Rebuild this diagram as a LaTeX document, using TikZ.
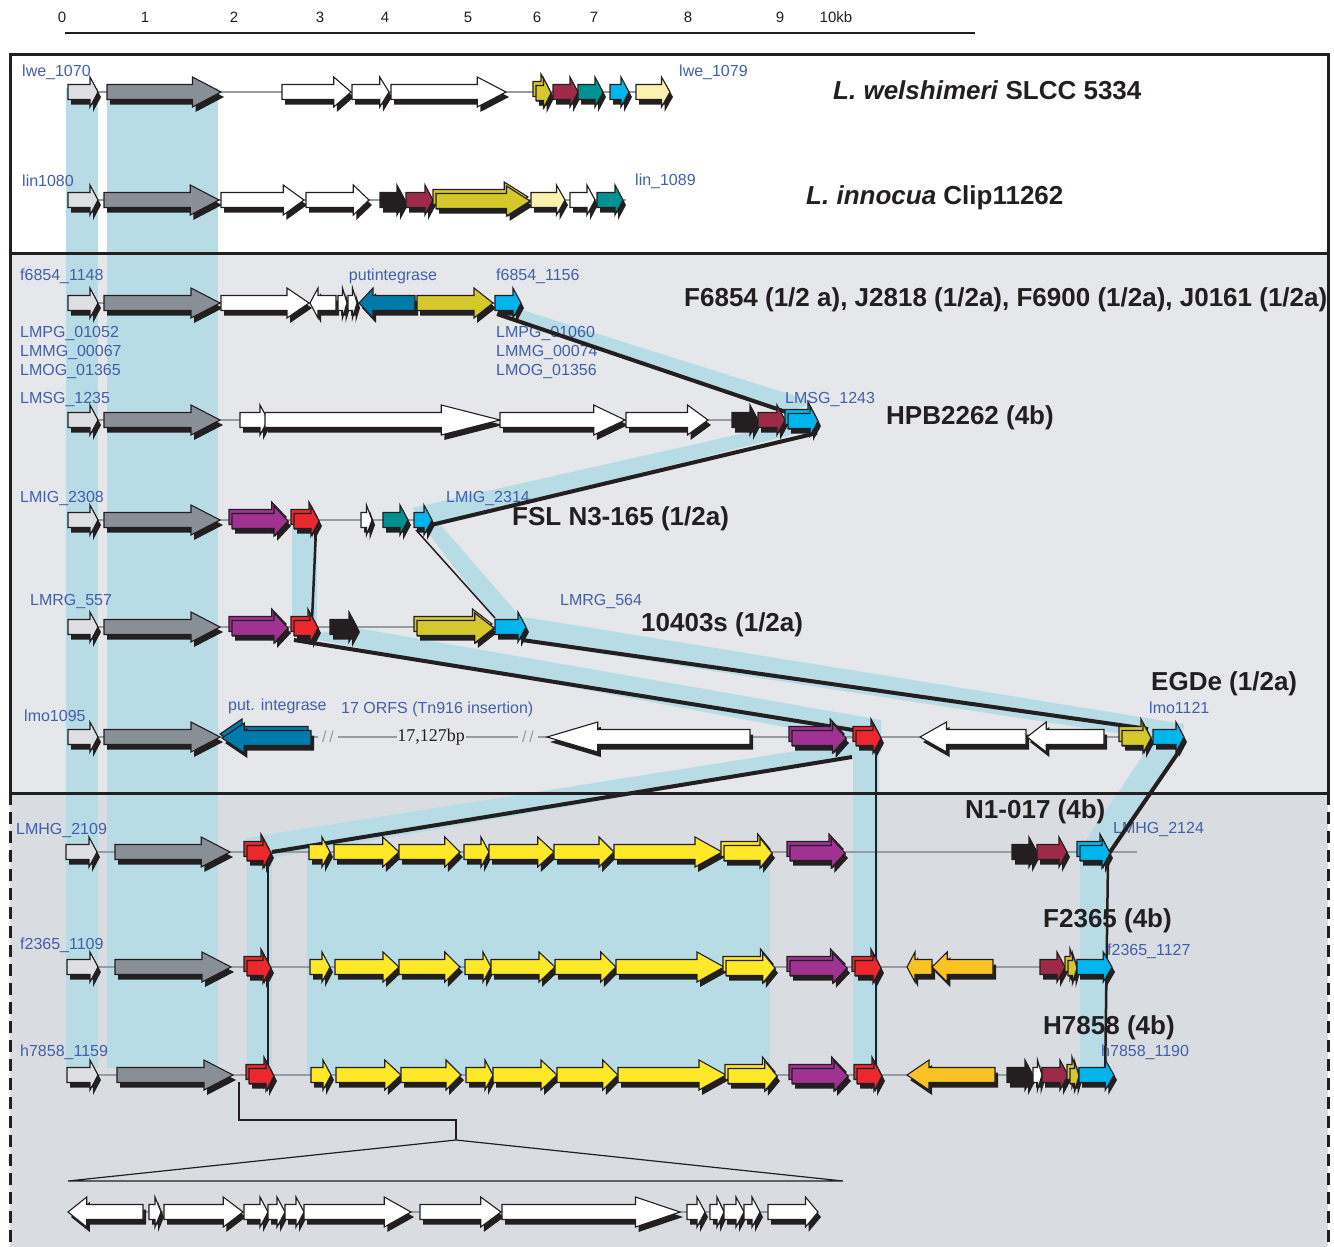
\documentclass[tikz,border=0pt]{standalone}
\usepackage{fontspec}
\setmainfont{Liberation Sans}
\newfontfamily\bpfont{Liberation Serif}

\definecolor{lgrey}{RGB}{221,223,227}
\definecolor{dgrey}{RGB}{137,143,150}
\definecolor{olive}{RGB}{212,200,45}
\definecolor{maroon}{RGB}{158,42,74}
\definecolor{teal}{RGB}{0,146,146}
\definecolor{cyan}{RGB}{0,181,236}
\definecolor{pale}{RGB}{252,242,176}
\definecolor{dblue}{RGB}{0,122,170}
\definecolor{purple}{RGB}{160,50,145}
\definecolor{red}{RGB}{235,40,45}
\definecolor{yellow}{RGB}{255,232,40}
\definecolor{orange}{RGB}{250,195,35}
\definecolor{ink}{RGB}{35,31,32}
\definecolor{lblue}{RGB}{65,95,170}
\definecolor{bandblue}{RGB}{184,220,229}
\definecolor{boxtwo}{RGB}{230,231,235}
\definecolor{boxthree}{RGB}{217,220,224}
\definecolor{spine}{RGB}{150,156,160}

\newcommand{\gene}[4]{%
  \pgfmathsetmacro\glen{abs(#2-(#1))}%
  \pgfmathsetmacro\ghd{max(0.25*\glen,min(8,0.5*\glen))}%
  \pgfmathsetmacro\gb{#2-sign(#2-(#1))*\ghd}%
  \fill[ink,shift={(3,5)}] (#1,#3-7.5) -- (\gb,#3-7.5) -- (\gb,#3-15) -- (#2,#3) -- (\gb,#3+15) -- (\gb,#3+7.5) -- (#1,#3+7.5) -- cycle;
  \filldraw[fill=#4,draw=ink,line width=1.1pt] (#1,#3-7.5) -- (\gb,#3-7.5) -- (\gb,#3-15) -- (#2,#3) -- (\gb,#3+15) -- (\gb,#3+7.5) -- (#1,#3+7.5) -- cycle;
}
\newcommand{\dgene}[4]{\gene{#1-1}{#2-2}{#3-3}{#4}\gene{#1+2}{#2}{#3+1}{#4}}

\tikzset{
  lbl/.style={text=lblue,font=\fontsize{16}{18}\selectfont,anchor=west,inner sep=0pt},
  title/.style={text=ink,font=\fontsize{26}{30}\selectfont\bfseries,anchor=west,inner sep=0pt},
  scl/.style={text=ink,font=\fontsize{15}{17}\selectfont,inner sep=0pt},
  band/.style={fill=bandblue},
  spineline/.style={spine,line width=1.8pt},
  link/.style={ink,line width=4pt},
  thinlink/.style={ink,line width=1.5pt},
  midlink/.style={ink,line width=2.5pt}
}

\begin{document}
\begin{tikzpicture}[x=1pt,y=-1pt]
\useasboundingbox (0,0) rectangle (1334,1247);
\fill[white] (0,0) rectangle (1334,1247);

\foreach \x/\t [count=\i] in {62/0,145/1,234/2,320/3,385/4,468/5,537/6,594/7,688/8,780/9,836/10kb}
  \node[scl] (s\i) at (\x,17) {\t};
\draw[ink,line width=1.5pt] (65,33) -- (975,33);

\fill[boxtwo] (10,253) rectangle (1328,793);
\fill[boxthree] (10,793) rectangle (1328,1247);

\fill[band] (66,88) rectangle (98,1068);
\fill[band] (107,88) rectangle (218,1068);
\fill[band] (498,316) -- (522,310) -- (814,402) -- (786,414) -- cycle;
\fill[band] (780,425) -- (818,428) -- (432,526) -- (412,508) -- cycle;
\fill[band] (420,522) -- (438,522) -- (525,622) -- (496,622) -- cycle;
\fill[band] (292,522) rectangle (317,627);
\fill[band] (505,620) -- (524,617) -- (1184,724) -- (1182,740) -- (1150,738) -- (524,642) -- cycle;
\fill[band] (296,636) -- (357,628) -- (881,720) -- (881,740) -- (855,740) -- cycle;
\fill[band] (853,742) -- (881,742) -- (881,752) -- (272,858) -- (246,858) -- (246,838) -- cycle;
\fill[band] (853,740) rectangle (879,1075);
\fill[band] (247,845) rectangle (272,1075);
\fill[band] (307,852) rectangle (770,1075);
\fill[band] (1150,745) -- (1182,745) -- (1108,852) -- (1078,852) -- cycle;
\fill[band] (1080,852) rectangle (1108,1075);

\draw[ink,line width=3pt] (10,55) rectangle (1328,253);
\draw[ink,line width=3pt] (10,253) rectangle (1328,793);
\draw[ink,line width=3pt,dash pattern=on 12pt off 7pt] (10,793) -- (10,1247);
\draw[ink,line width=3pt,dash pattern=on 12pt off 7pt] (1328,793) -- (1328,1247);

\draw[spineline] (68,92) -- (668,92);
\draw[spineline] (68,200) -- (626,200);
\draw[spineline] (68,303) -- (521,303);
\draw[spineline] (68,420) -- (818,420);
\draw[spineline] (68,520) -- (432,520);
\draw[spineline] (68,627) -- (526,627);
\draw[spineline] (68,737) -- (318,737);
\draw[spineline] (338,737) -- (397,737);
\draw[spineline] (466,737) -- (518,737);
\draw[spineline] (538,737) -- (1184,737);
\draw[spineline] (68,852) -- (1137,852);
\draw[spineline] (68,967) -- (1112,967);
\draw[spineline] (68,1075) -- (1114,1075);
\draw[spineline] (68,1212) -- (818,1212);

\node[lbl] (lwe1070) at (22,72) {lwe\_1070};
\node[lbl] (lwe1079) at (679,72) {lwe\_1079};
\node[title] (welsh) at (833,90) {\textit{L. welshimeri} SLCC 5334};
\node[lbl] (lin1080) at (22,181) {lin1080};
\node[lbl] (lin1089) at (635,181) {lin\_1089};
\node[title] (innoc) at (806,198) {\textit{L. innocua} Clip11262};
\node[lbl] (f1148) at (20,276) {f6854\_1148};
\node[lbl,anchor=center] (putint) at (393,276) {putintegrase};
\node[lbl] (f1156) at (496,276) {f6854\_1156};
\node[lbl] (lmpga) at (20,334) {LMPG\_01052};
\node[lbl] (lmmga) at (20,353) {LMMG\_00067};
\node[lbl] (lmoga) at (20,372) {LMOG\_01365};
\node[lbl] (lmpgb) at (496,334) {LMPG\_01060};
\node[lbl] (lmmgb) at (496,353) {LMMG\_00074};
\node[lbl] (lmogb) at (496,372) {LMOG\_01356};
\node[title] (f6854) at (684,300) {F6854 (1/2 a), J2818 (1/2a), F6900 (1/2a), J0161 (1/2a)};
\node[lbl] (lmsga) at (20,400) {LMSG\_1235};
\node[lbl] (lmsgb) at (785,400) {LMSG\_1243};
\node[title] (hpb) at (886,418) {HPB2262 (4b)};
\node[lbl] (lmiga) at (20,498) {LMIG\_2308};
\node[lbl] (lmigb) at (446,498) {LMIG\_2314};
\node[title] (fsl) at (512,519) {FSL N3-165 (1/2a)};
\node[lbl] (lmrga) at (30,601) {LMRG\_557};
\node[lbl] (lmrgb) at (560,601) {LMRG\_564};
\node[title] (s10403) at (641,625) {10403s (1/2a)};
\node[lbl] (lmoa) at (24,716) {lmo1095};
\node[lbl] (putint2) at (228,706) {put. integrase};
\node[lbl] (orfs) at (341,709) {17 ORFS (Tn916 insertion)};
\node[lbl] (lmob) at (1149,708) {lmo1121};
\node[title] (egde) at (1151,684) {EGDe (1/2a)};
\node[text=spine,font=\fontsize{16}{18}\selectfont,inner sep=0pt] (cuta) at (328,737) {/\,/};
\node[text=spine,font=\fontsize{16}{18}\selectfont,inner sep=0pt] (cutb) at (528,737) {/\,/};
\node[text=ink,font=\bpfont\fontsize{18}{20}\selectfont,inner sep=0pt] (bp) at (431,737) {17,127bp};
\node[lbl] (lmhga) at (16,830) {LMHG\_2109};
\node[lbl] (lmhgb) at (1113,829) {LMHG\_2124};
\node[title] (n1017) at (965,812) {N1-017 (4b)};
\node[lbl] (fa) at (20,945) {f2365\_1109};
\node[lbl] (fb) at (1107,951) {f2365\_1127};
\node[title] (f2365) at (1043,921) {F2365 (4b)};
\node[lbl] (ha) at (20,1052) {h7858\_1159};
\node[lbl] (hb) at (1101,1052) {h7858\_1190};
\node[title] (h7858) at (1043,1028) {H7858 (4b)};

\coordinate (c3) at (497,314);
\coordinate (c4a) at (786,412);
\coordinate (c4b) at (817,433);
\coordinate (c5a) at (431,525);
\coordinate (c5b) at (416,530);
\coordinate (c6a) at (495,618);
\coordinate (c6b) at (522,640);
\coordinate (c7o) at (1148,729);
\coordinate (r5) at (316,530);
\coordinate (r6a) at (312,620);
\coordinate (r6b) at (294,640);
\coordinate (r7a) at (853,730);
\coordinate (r7b) at (852,757);
\coordinate (r7c) at (876,745);
\coordinate (r8a) at (272,852);
\coordinate (r8b) at (268,856);
\coordinate (r10a) at (876,1080);
\coordinate (r10b) at (268,1078);
\coordinate (c7c) at (1182,747);
\coordinate (c8a) at (1108,855);
\coordinate (c8b) at (1108,860);
\coordinate (c10) at (1105,1082);
\coordinate (zoomtop) at (239,1082);
\coordinate (zoomapex) at (456,1140);
\coordinate (zoomleft) at (68,1181);
\coordinate (zoomright) at (843,1181);

\draw[link] (c3) -- (c4a);
\draw[link] (c4b) -- (c5a);
\draw[thinlink] (c5b) -- (c6a);
\draw[midlink] (r5) -- (r6a);
\draw[link] (c6b) -- (c7o);
\draw[link] (r6b) -- (r7a);
\draw[link] (r7b) -- (r8a);
\draw[midlink] (r7c) -- (r10a);
\draw[midlink] (r8b) -- (r10b);
\draw[link] (c7c) -- (c8a);
\draw[midlink] (c8b) -- (c10);
\draw[ink,line width=1.2pt] (zoomtop) -- ++(0,38) -| (zoomapex);
\draw[ink,line width=1.2pt] (zoomleft) -- (zoomapex) -- (zoomright) -- cycle;

\gene{68}{98}{92}{lgrey}
\gene{107}{221}{92}{dgrey}
\gene{282}{351}{92}{white}
\gene{352}{389}{92}{white}
\gene{391}{506}{92}{white}
\dgene{534}{551}{92}{olive}
\gene{553}{578}{92}{maroon}
\gene{578}{603}{92}{teal}
\gene{610}{629}{92}{cyan}
\gene{636}{670}{92}{pale}

\gene{68}{98}{200}{lgrey}
\gene{104}{219}{200}{dgrey}
\gene{221}{304}{200}{white}
\gene{306}{369}{200}{white}
\gene{380}{405}{200}{ink}
\gene{406}{433}{200}{maroon}
\dgene{434}{530}{200}{olive}
\gene{531}{565}{200}{pale}
\gene{570}{595}{200}{white}
\gene{597}{623}{200}{teal}

\gene{68}{98}{303}{lgrey}
\gene{104}{220}{303}{dgrey}
\gene{221}{309}{303}{white}
\gene{336}{310}{303}{white}
\gene{338}{347}{303}{white}
\gene{348}{357}{303}{white}
\gene{415}{359}{303}{dblue}
\gene{417}{493}{303}{olive}
\gene{495}{521}{303}{cyan}

\gene{68}{98}{420}{lgrey}
\gene{104}{220}{420}{dgrey}
\gene{240}{268}{420}{white}
\gene{265}{500}{420}{white}
\gene{500}{625}{420}{white}
\gene{626}{708}{420}{white}
\gene{732}{758}{420}{ink}
\gene{758}{785}{420}{maroon}
\dgene{786}{818}{420}{cyan}

\gene{68}{98}{520}{lgrey}
\gene{104}{220}{520}{dgrey}
\dgene{230}{288}{520}{purple}
\dgene{292}{319}{520}{red}
\gene{361}{372}{520}{white}
\gene{383}{408}{520}{teal}
\gene{414}{432}{520}{cyan}

\gene{68}{98}{627}{lgrey}
\gene{104}{220}{627}{dgrey}
\dgene{230}{288}{627}{purple}
\dgene{292}{318}{627}{red}
\gene{330}{357}{627}{ink}
\dgene{415}{494}{627}{olive}
\gene{495}{526}{627}{cyan}

\gene{68}{98}{737}{lgrey}
\gene{104}{220}{737}{dgrey}
\dgene{309}{222}{737}{dblue}
\gene{750}{547}{737}{white}
\dgene{790}{846}{737}{purple}
\dgene{854}{881}{737}{red}
\gene{1026}{920}{737}{white}
\gene{1104}{1027}{737}{white}
\dgene{1120}{1151}{737}{olive}
\gene{1153}{1184}{737}{cyan}

\gene{66}{97}{852}{lgrey}
\gene{115}{230}{852}{dgrey}
\dgene{245}{271}{852}{red}
\gene{309}{330}{852}{yellow}
\gene{334}{399}{852}{yellow}
\gene{399}{460}{852}{yellow}
\gene{464}{489}{852}{yellow}
\gene{489}{554}{852}{yellow}
\gene{554}{614}{852}{yellow}
\gene{614}{722}{852}{yellow}
\dgene{722}{772}{852}{yellow}
\dgene{788}{845}{852}{purple}
\gene{1012}{1037}{852}{ink}
\gene{1037}{1067}{852}{maroon}
\dgene{1078}{1110}{852}{cyan}

\gene{67}{98}{967}{lgrey}
\gene{115}{231}{967}{dgrey}
\dgene{245}{271}{967}{red}
\gene{310}{330}{967}{yellow}
\gene{335}{399}{967}{yellow}
\gene{399}{460}{967}{yellow}
\gene{465}{491}{967}{yellow}
\gene{491}{555}{967}{yellow}
\gene{555}{616}{967}{yellow}
\gene{616}{724}{967}{yellow}
\dgene{724}{775}{967}{yellow}
\dgene{788}{847}{967}{purple}
\dgene{853}{881}{967}{red}
\gene{932}{907}{967}{orange}
\gene{993}{932}{967}{orange}
\gene{1040}{1065}{967}{maroon}
\dgene{1066}{1077}{967}{olive}
\gene{1077}{1112}{967}{cyan}

\gene{67}{98}{1075}{lgrey}
\gene{117}{233}{1075}{dgrey}
\dgene{247}{274}{1075}{red}
\gene{311}{331}{1075}{yellow}
\gene{336}{401}{1075}{yellow}
\gene{401}{461}{1075}{yellow}
\gene{466}{493}{1075}{yellow}
\gene{493}{557}{1075}{yellow}
\gene{557}{618}{1075}{yellow}
\gene{618}{726}{1075}{yellow}
\dgene{726}{777}{1075}{yellow}
\dgene{790}{848}{1075}{purple}
\dgene{855}{882}{1075}{red}
\gene{995}{907}{1075}{orange}
\gene{1007}{1033}{1075}{ink}
\gene{1033}{1042}{1075}{white}
\gene{1042}{1068}{1075}{maroon}
\dgene{1068}{1079}{1075}{olive}
\gene{1079}{1114}{1075}{cyan}

\gene{143}{68}{1212}{white}
\gene{149}{161}{1212}{white}
\gene{164}{243}{1212}{white}
\gene{244}{268}{1212}{white}
\gene{268}{285}{1212}{white}
\gene{285}{304}{1212}{white}
\gene{304}{411}{1212}{white}
\gene{420}{501}{1212}{white}
\gene{502}{680}{1212}{white}
\gene{687}{705}{1212}{white}
\gene{710}{724}{1212}{white}
\gene{724}{744}{1212}{white}
\gene{744}{760}{1212}{white}
\gene{768}{818}{1212}{white}
\end{tikzpicture}
\end{document}
